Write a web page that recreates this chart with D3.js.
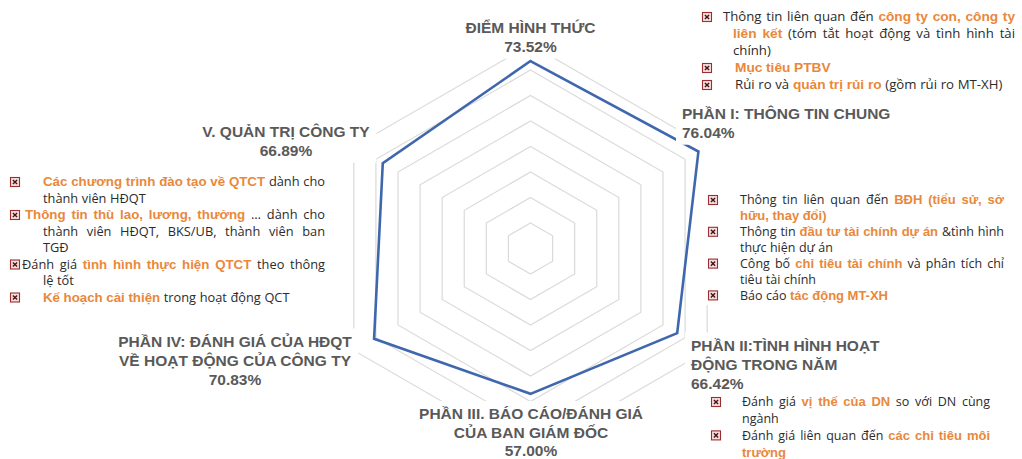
<!DOCTYPE html>
<html>
<head>
<meta charset="utf-8">
<script src="https://cdn.jsdelivr.net/npm/d3@7"></script>
<style>
  body { margin: 0; background: #fff; }
  svg { display: block; }
</style>
</head>
<body>
<svg id="chart" width="1022" height="459"></svg>
<script>
// ---- data ----
const axisNames = [
  ['ĐIỂM HÌNH THỨC'],
  ['PHẦN I: THÔNG TIN CHUNG'],
  ['PHẦN II:TÌNH HÌNH HOẠT', 'ĐỘNG TRONG NĂM'],
  ['PHẦN III. BÁO CÁO/ĐÁNH GIÁ', 'CỦA BAN GIÁM ĐỐC'],
  ['PHẦN IV: ĐÁNH GIÁ CỦA HĐQT', 'VỀ HOẠT ĐỘNG CỦA CÔNG TY'],
  ['V. QUẢN TRỊ CÔNG TY']
];
const scores = [0.7352, 0.7604, 0.6642, 0.5700, 0.7083, 0.6689];
const ringTicks = [0.1, 0.2, 0.3, 0.4, 0.5, 0.6, 0.7, 0.8];

// note blocks: items -> lines -> [text, highlighted]
const notesTopRight = [
  [[['Thông tin liên quan đến', 0], ['công ty con, công ty', 1]],
   [['liên kết', 1], ['(tóm tắt hoạt động và tình hình tài', 0]],
   [['chính)', 0]]],
  [[['Mục tiêu PTBV', 1]]],
  [[['Rủi ro và', 0], ['quản trị rủi ro', 1], ['(gồm rủi ro MT-XH)', 0]]]
];
const notesLeft = [
  [[['Các chương trình đào tạo về QTCT', 1], ['dành cho', 0]],
   [['thành viên HĐQT', 0]]],
  [[['Thông tin thù lao, lương, thưởng', 1], ['… dành cho', 0]],
   [['thành viên HĐQT, BKS/UB, thành viên ban', 0]],
   [['TGĐ', 0]]],
  [[['Đánh giá', 0], ['tình hình thực hiện QTCT', 1], ['theo thông', 0]],
   [['lệ tốt', 0]]],
  [[['Kế hoạch cải thiện', 1], ['trong hoạt động QCT', 0]]]
];
const notesRightMid = [
  [[['Thông tin liên quan đến', 0], ['BĐH (tiểu sử, sở', 1]],
   [['hữu, thay đổi)', 1]]],
  [[['Thông tin', 0], ['đầu tư tài chính dự án', 1], ['&tình hình', 0]],
   [['thực hiện dự án', 0]]],
  [[['Công bố', 0], ['chỉ tiêu tài chính', 1], ['và phân tích chỉ', 0]],
   [['tiêu tài chính', 0]]],
  [[['Báo cáo', 0], ['tác động MT-XH', 1]]]
];
const notesBottomRight = [
  [[['Đánh giá', 0], ['vị thế của DN', 1], ['so với DN cùng', 0]],
   [['ngành', 0]]],
  [[['Đánh giá liên quan đến', 0], ['các chỉ tiêu môi', 1]],
   [['trường', 1]]]
];

// ---- layout ----
const cx = 530.5, cy = 248.5;
const GRAY = '#595959', ORANGE = '#E9883B', TEXT = '#2b2b2b', BLUE = '#3F67AD';

const svg = d3.select('#chart');
const r = d3.scaleLinear().domain([0, 0.8]).range([0, 204]);
const angle = i => i * 2 * Math.PI / axisNames.length;

const radar = svg.append('g').attr('transform', `translate(${cx},${cy})`);
const ringLine = d3.lineRadial().angle((d, i) => angle(i)).radius(d => r(d)).curve(d3.curveLinearClosed);

radar.selectAll('path.ring').data(ringTicks).join('path')
  .attr('class', 'ring')
  .attr('d', t => ringLine(axisNames.map(() => t)))
  .attr('fill', 'none').attr('stroke', '#dadada').attr('stroke-width', 1.2);

radar.append('path')
  .attr('d', ringLine(scores))
  .attr('fill', 'none').attr('stroke', BLUE).attr('stroke-width', 2.6)
  .attr('stroke-linejoin', 'miter');

// ---- axis labels ----
const pct = d3.format('.2f');
const labelPos = [
  { x: 530.5, y: 32.5, anchor: 'middle', lh: 19.2 },
  { x: 682, y: 118.5, anchor: 'start', lh: 19.2 },
  { x: 691, y: 350.5, anchor: 'start', lh: 19.2 },
  { x: 531, y: 419, anchor: 'middle', lh: 18.6 },
  { x: 235, y: 346.5, anchor: 'middle', lh: 19.2 },
  { x: 286, y: 136.5, anchor: 'middle', lh: 19.2 }
];
const labelLayer = svg.append('g');
axisNames.forEach((lines, i) => {
  const p = labelPos[i];
  const g = labelLayer.append('g');
  const bg = g.append('rect').attr('fill', '#fff');
  const t = g.append('text')
    .attr('text-anchor', p.anchor)
    .attr('font-family', '"Liberation Sans", Arial, sans-serif')
    .attr('font-weight', 'bold').attr('font-size', 15.5).attr('fill', GRAY);
  lines.concat([pct(scores[i] * 100) + '%']).forEach((s, k) => {
    t.append('tspan').attr('x', p.x).attr('y', p.y + k * p.lh).text(s);
  });
  const b = t.node().getBBox();
  bg.attr('x', b.x - 6).attr('y', b.y - 4).attr('width', b.width + 12).attr('height', b.height + 8);
});

// ---- note blocks ----
const NORMAL_FONT = '"Open Sans", sans-serif';
const BOLD_FONT = '"Liberation Sans Narrow", "Arial Narrow", "Liberation Sans", sans-serif';

function icon(g, x, y) {
  const s = 9;
  const ig = g.append('g').attr('transform', `translate(${x - s / 2},${y - s / 2})`);
  ig.append('rect').attr('width', s).attr('height', s)
    .attr('fill', '#f6dede').attr('stroke', '#9a2f30').attr('stroke-width', 1.1);
  ig.append('path').attr('d', `M2.4,2.4L${s - 2.4},${s - 2.4}M${s - 2.4},2.4L2.4,${s - 2.4}`)
    .attr('stroke', '#4a1212').attr('stroke-width', 1.4);
}

function drawNotes(items, cfg) {
  const g = svg.append('g');
  g.append('rect').attr('fill', '#fff')
    .attr('x', cfg.box[0]).attr('y', cfg.box[1]).attr('width', cfg.box[2]).attr('height', cfg.box[3]);
  let row = 0;
  items.forEach((lines, i) => {
    icon(g, cfg.iconX, cfg.y0 + row * cfg.lh);
    lines.forEach((segs, k) => {
      const yc = cfg.y0 + row * cfg.lh;
      const x0 = k === 0 ? cfg.firstX[i] : cfg.contX;
      const justify = k < lines.length - 1;
      const words = [];
      segs.forEach(([txt, hi]) => txt.split(/\s+/).filter(Boolean).forEach(w => words.push({ w, hi })));
      const nodes = words.map(d => {
        const t = g.append('text').attr('y', yc + 4.4)
          .attr('font-family', d.hi ? BOLD_FONT : NORMAL_FONT)
          .attr('font-weight', d.hi ? 'bold' : 'normal')
          .attr('font-size', d.hi ? cfg.fs + 0.5 : cfg.fs)
          .attr('fill', d.hi ? ORANGE : TEXT)
          .text(d.w);
        return { t, width: t.node().getComputedTextLength() };
      });
      const total = d3.sum(nodes, n => n.width);
      const gap = justify && nodes.length > 1
        ? Math.max(2.5, (cfg.right - x0 - total) / (nodes.length - 1))
        : cfg.fs * 0.28;
      let x = x0;
      nodes.forEach(n => { n.t.attr('x', x); x += n.width + gap; });
      row++;
    });
  });
}

drawNotes(notesTopRight, { fs: 13.2, iconX: 707, firstX: [723, 735, 735], contX: 733, right: 1015, y0: 17, lh: 17, box: [700, 2, 322, 94] });
drawNotes(notesLeft, { fs: 12.8, iconX: 15, firstX: [43, 25, 22, 43], contX: 43, right: 325, y0: 182, lh: 16.5, box: [4, 168, 332, 140] });
drawNotes(notesRightMid, { fs: 12.5, iconX: 713, firstX: [740, 740, 740, 740], contX: 740, right: 1004, y0: 200, lh: 15.9, box: [704, 140, 318, 165] });
drawNotes(notesBottomRight, { fs: 12.5, iconX: 716, firstX: [742, 742], contX: 742, right: 990, y0: 402, lh: 16.7, box: [706, 392, 316, 67] });
</script>
</body>
</html>
